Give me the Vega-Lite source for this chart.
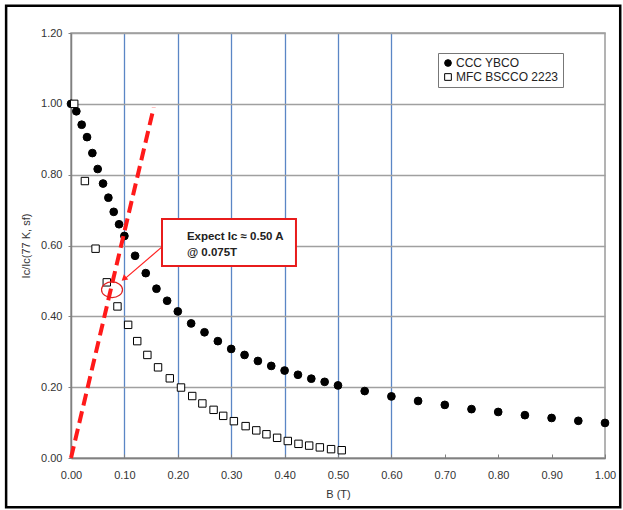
{
  "$schema": "https://vega.github.io/schema/vega-lite/v6.json",
  "width": 534,
  "height": 425,
  "autosize": "none",
  "padding": {"left": 71, "top": 33, "right": 18, "bottom": 52},
  "background": "white",
  "data": {"values": [{"k": 1}]},
  "config": {
    "font": "Liberation Sans",
    "view": {"stroke": "#9a9a9a", "strokeWidth": 1.5},
    "axis": {"labelFont": "Liberation Sans", "titleFont": "Liberation Sans", "labelFontSize": 11, "titleFontSize": 11, "labelColor": "#333", "titleColor": "#333", "titleFontWeight": "normal", "domainColor": "#808080", "domainWidth": 1.5, "labelFlush": false, "labelOverlap": false}
  },
  "datasets": {
    "ybco": [
      {"B": 0.0, "r": 1.0}, {"B": 0.01, "r": 0.979}, {"B": 0.02, "r": 0.941}, {"B": 0.03, "r": 0.906},
      {"B": 0.04, "r": 0.861}, {"B": 0.05, "r": 0.816}, {"B": 0.06, "r": 0.775}, {"B": 0.07, "r": 0.735},
      {"B": 0.08, "r": 0.695}, {"B": 0.09, "r": 0.66}, {"B": 0.10, "r": 0.627}, {"B": 0.12, "r": 0.571},
      {"B": 0.14, "r": 0.522}, {"B": 0.16, "r": 0.478}, {"B": 0.18, "r": 0.444}, {"B": 0.20, "r": 0.414},
      {"B": 0.225, "r": 0.38}, {"B": 0.25, "r": 0.355}, {"B": 0.275, "r": 0.33}, {"B": 0.30, "r": 0.308},
      {"B": 0.325, "r": 0.291}, {"B": 0.35, "r": 0.274}, {"B": 0.375, "r": 0.26}, {"B": 0.40, "r": 0.247},
      {"B": 0.425, "r": 0.235}, {"B": 0.45, "r": 0.224}, {"B": 0.475, "r": 0.215}, {"B": 0.50, "r": 0.205},
      {"B": 0.55, "r": 0.189}, {"B": 0.60, "r": 0.174}, {"B": 0.65, "r": 0.161}, {"B": 0.70, "r": 0.15},
      {"B": 0.75, "r": 0.138}, {"B": 0.80, "r": 0.13}, {"B": 0.85, "r": 0.121}, {"B": 0.90, "r": 0.113},
      {"B": 0.95, "r": 0.105}, {"B": 1.00, "r": 0.099}
    ],
    "bscco": [
      {"B": 0.006, "r": 1.0}, {"B": 0.026, "r": 0.782}, {"B": 0.046, "r": 0.591}, {"B": 0.067, "r": 0.496},
      {"B": 0.087, "r": 0.428}, {"B": 0.107, "r": 0.376}, {"B": 0.124, "r": 0.33}, {"B": 0.143, "r": 0.291},
      {"B": 0.163, "r": 0.256}, {"B": 0.185, "r": 0.225}, {"B": 0.206, "r": 0.199}, {"B": 0.227, "r": 0.175},
      {"B": 0.246, "r": 0.154}, {"B": 0.267, "r": 0.136}, {"B": 0.285, "r": 0.119}, {"B": 0.305, "r": 0.104},
      {"B": 0.327, "r": 0.09}, {"B": 0.347, "r": 0.078}, {"B": 0.366, "r": 0.067}, {"B": 0.386, "r": 0.057},
      {"B": 0.406, "r": 0.048}, {"B": 0.426, "r": 0.04}, {"B": 0.446, "r": 0.035}, {"B": 0.466, "r": 0.03},
      {"B": 0.487, "r": 0.025}, {"B": 0.507, "r": 0.022}
    ]
  },
  "layer": [
    {
      "mark": {"type": "rect", "fill": null, "stroke": "black", "strokeWidth": 2.5},
      "encoding": {
        "x": {"datum": -0.1215, "type": "quantitative", "scale": {"domain": [0, 1], "nice": false, "zero": false, "padding": 0}},
        "x2": {"datum": 1.0285},
        "y": {"datum": 1.277, "type": "quantitative", "scale": {"domain": [0, 1.2], "nice": false, "zero": false, "padding": 0}},
        "y2": {"datum": -0.139}
      }
    },
    {
      "data": {"name": "ybco"},
      "transform": [{"calculate": "'CCC YBCO'", "as": "series"}],
      "mark": {"type": "point", "filled": false, "strokeWidth": 1, "opacity": 1, "size": 60},
      "encoding": {
        "x": {"field": "B", "type": "quantitative",
          "axis": {"values": [0, 0.1, 0.2, 0.3, 0.4, 0.5, 0.6, 0.7, 0.8, 0.9, 1.0], "format": ".2f", "title": "B (T)", "labelPadding": 15, "titlePadding": 8, "tickSize": -4, "tickColor": "#808080", "grid": true, "gridColor": "#5b86c5", "gridWidth": 1.3,
            "gridOpacity": {"condition": {"test": "datum.value > 0.05 && datum.value < 0.65", "value": 1}, "value": 0}}},
        "y": {"field": "r", "type": "quantitative",
          "axis": {"values": [0, 0.2, 0.4, 0.6, 0.8, 1.0, 1.2], "format": ".2f", "title": "Ic/Ic(77 K, sf)", "labelPadding": 6, "tickSize": 3, "tickColor": "#808080", "titlePadding": 9, "grid": true, "gridColor": "#a0a0a0", "gridWidth": 1.3}},
        "shape": {"field": "series", "type": "nominal", "title": null, "scale": {"domain": ["CCC YBCO", "MFC BSCCO 2223"], "range": ["circle", "square"]},
          "legend": {"orient": "none", "legendX": 367, "legendY": 20, "padding": 4, "strokeColor": "#777", "fillColor": "white", "labelFontSize": 12, "labelFont": "Liberation Sans", "labelColor": "#222", "symbolSize": 45, "labelOffset": 2, "rowPadding": 2, "symbolStrokeWidth": 1}},
        "fill": {"field": "series", "type": "nominal", "title": null, "scale": {"domain": ["CCC YBCO", "MFC BSCCO 2223"], "range": ["black", "white"]}},
        "stroke": {"field": "series", "type": "nominal", "title": null, "scale": {"domain": ["CCC YBCO", "MFC BSCCO 2223"], "range": ["black", "black"]}}
      }
    },
    {
      "data": {"name": "bscco"},
      "transform": [{"calculate": "'MFC BSCCO 2223'", "as": "series"}],
      "mark": {"type": "point", "filled": false, "strokeWidth": 1, "opacity": 1, "size": 55},
      "encoding": {
        "x": {"field": "B", "type": "quantitative"},
        "y": {"field": "r", "type": "quantitative"},
        "shape": {"field": "series", "type": "nominal", "title": null},
        "fill": {"field": "series", "type": "nominal", "title": null},
        "stroke": {"field": "series", "type": "nominal", "title": null}
      }
    },
    {
      "data": {"values": [{"B": 0, "r": 0}, {"B": 0.155, "r": 0.99}]},
      "mark": {"type": "line", "color": "#ff1a1a", "strokeWidth": 4, "strokeDash": [12, 6]},
      "encoding": {
        "x": {"field": "B", "type": "quantitative"},
        "y": {"field": "r", "type": "quantitative"}
      }
    },
    {
      "mark": {"type": "point", "shape": "M-1,0A1,0.75,0,1,1,1,0A1,0.75,0,1,1,-1,0Z", "size": 441, "filled": false, "stroke": "#e02020", "strokeWidth": 1.2, "opacity": 1},
      "encoding": {
        "x": {"datum": 0.0768, "type": "quantitative"},
        "y": {"datum": 0.475, "type": "quantitative"}
      }
    },
    {
      "mark": {"type": "rule", "color": "#ff2020", "strokeWidth": 1.2},
      "encoding": {
        "x": {"datum": 0.1704, "type": "quantitative"},
        "y": {"datum": 0.596, "type": "quantitative"},
        "x2": {"datum": 0.1},
        "y2": {"datum": 0.505}
      }
    },
    {
      "mark": {"type": "point", "shape": "triangle-up", "size": 45, "filled": true, "color": "#ff2020", "opacity": 1, "angle": 229},
      "encoding": {
        "x": {"datum": 0.099, "type": "quantitative"},
        "y": {"datum": 0.506, "type": "quantitative"}
      }
    },
    {
      "mark": {"type": "rect", "fill": "white", "stroke": "#e81c1c", "strokeWidth": 2},
      "encoding": {
        "x": {"datum": 0.1704, "type": "quantitative"},
        "x2": {"datum": 0.4213},
        "y": {"datum": 0.675, "type": "quantitative"},
        "y2": {"datum": 0.542}
      }
    },
    {
      "mark": {"type": "text", "align": "left", "baseline": "middle", "font": "Liberation Sans", "fontSize": 11.5, "fontWeight": "bold", "color": "#222", "lineHeight": 16},
      "encoding": {
        "x": {"datum": 0.217, "type": "quantitative"},
        "y": {"datum": 0.624, "type": "quantitative"},
        "text": {"value": ["Expect Ic ≈ 0.50 A", "@ 0.075T"]}
      }
    }
  ]
}
